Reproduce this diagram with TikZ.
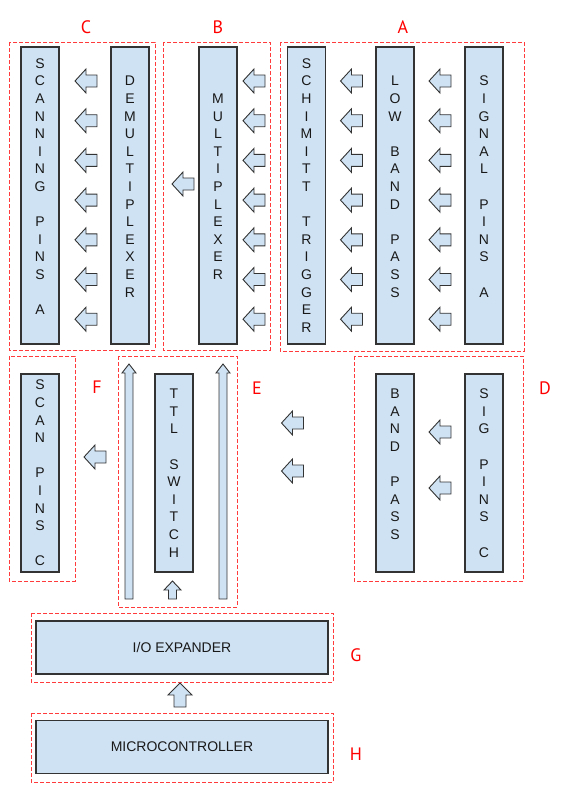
\documentclass[tikz,border=0pt]{standalone}
\usepackage{fontspec}
\setmainfont{Liberation Sans}
\newfontfamily\tagfont{PT Sans}
\usetikzlibrary{calc}

\definecolor{boxblue}{HTML}{CFE2F3}
\definecolor{grpred}{HTML}{FF3B3B}

\tikzset{
	blk/.style = {draw = black!80, line width = 1.2pt, fill = boxblue, align = center, inner sep = 0pt, text = black!90, font = \fontsize{14}{17.6}\selectfont},
	pinbar/.style = {blk, minimum width = 38pt, minimum height = 297pt},
	lowbar/.style = {blk, minimum width = 38pt, minimum height = 198pt},
	widebar/.style = {blk, minimum width = 292pt, minimum height = 53pt},
	grp/.style = {draw = grpred, dash pattern = on 4pt off 2pt, line width = 0.9pt},
	grptag/.style = {text = red, font = \tagfont\fontsize{18}{20}\selectfont},
	arr/.style = {draw = black!80, line width = 0.9pt, fill = boxblue, line join = miter},
	pics/larr/.style = {code = {\draw[arr] (-11,0) -- (0,-12) -- (0,-6) -- (11,-6) -- (11,6) -- (0,6) -- (0,12) -- cycle;}},
	pics/uarr/.style n args = {4}{code = {\draw[arr] (0,0) -- (#1,#4) -- (#2,#4) -- (#2,#3) -- (-#2,#3) -- (-#2,#4) -- (-#1,#4) -- cycle;}}
}

\begin{document}
\begin{tikzpicture}[x = 1pt, y = -1pt]
	\useasboundingbox (0,0) rectangle (580,793);
	% groups
	\draw[grp] (9,42) rectangle (155,350);
	\draw[grp] (163,42) rectangle (270,350);
	\draw[grp] (280,42) rectangle (524,351);
	\draw[grp] (9,356) rectangle (75,581);
	\draw[grp] (118,356) rectangle (237,607);
	\draw[grp] (354,356) rectangle (523,581);
	\draw[grp] (31,613) rectangle (333,682);
	\draw[grp] (31,713) rectangle (333,782);
	\node[grptag] (tagC) at (86,27) {C};
	\node[grptag] (tagB) at (218,27) {B};
	\node[grptag] (tagA) at (403,27) {A};
	\node[grptag] (tagF) at (97,387) {F};
	\node[grptag] (tagE) at (257,388) {E};
	\node[grptag] (tagD) at (545,388) {D};
	\node[grptag] (tagG) at (356,655) {G};
	\node[grptag] (tagH) at (356,754) {H};
	% top row
	\node[pinbar] (scn) at (40,195.5) {S\\C\\A\\N\\N\\I\\N\\G\\~\\P\\I\\N\\S\\~\\A\\~};
	\node[pinbar] (dmx) at (130,195.5) {D\\E\\M\\U\\L\\T\\I\\P\\L\\E\\X\\E\\R\\~};
	\node[pinbar] (mux) at (218,195.5) {M\\U\\L\\T\\I\\P\\L\\E\\X\\E\\R\\~};
	\node[pinbar] (smt) at (306.5,195.5) {S\\C\\H\\I\\M\\I\\T\\T\\~\\T\\R\\I\\G\\G\\E\\R};
	\node[pinbar] (lbp) at (395,195.5) {L\\O\\W\\~\\B\\A\\N\\D\\~\\P\\A\\S\\S\\~};
	\node[pinbar] (sgp) at (484,195.5) {S\\I\\G\\N\\A\\L\\~\\P\\I\\N\\S\\~\\A\\~};
	\foreach \k in {0,...,6} {
		\pic at (86,81+39.7*\k) {larr};
		\pic at (254,81+39.7*\k) {larr};
		\pic at (351.5,81+39.7*\k) {larr};
		\pic at (440,81+39.7*\k) {larr};
	}
	\pic at (183,184) {larr};
	% middle row
	\node[lowbar] (scp) at (40,473) {S\\C\\A\\N\\~\\P\\I\\N\\S\\~\\C};
	\node[lowbar] (ttl) at (174,473) {T\\T\\L\\~\\S\\W\\I\\T\\C\\H};
	\node[lowbar] (bdp) at (395,473) {B\\A\\N\\D\\~\\P\\A\\S\\S\\~};
	\node[lowbar] (sgc) at (484,473) {S\\I\\G\\~\\P\\I\\N\\S\\~\\C};
	\pic at (95,457) {larr};
	\pic at (292.5,423) {larr};
	\pic at (292.5,471) {larr};
	\pic at (440,432) {larr};
	\pic at (440,488) {larr};
	\pic at (129,364) {uarr={7}{4}{235}{9}};
	\pic at (223,364) {uarr={7}{4}{235}{9}};
	\pic at (172.5,581) {uarr={8.5}{4}{18}{9}};
	% bottom
	\node[widebar] (iox) at (182,647.5) {I/O EXPANDER};
	\node[widebar] (mcu) at (182,747) {MICROCONTROLLER};
	\pic at (180,683) {uarr={12}{6}{24}{12}};
\end{tikzpicture}
\end{document}
